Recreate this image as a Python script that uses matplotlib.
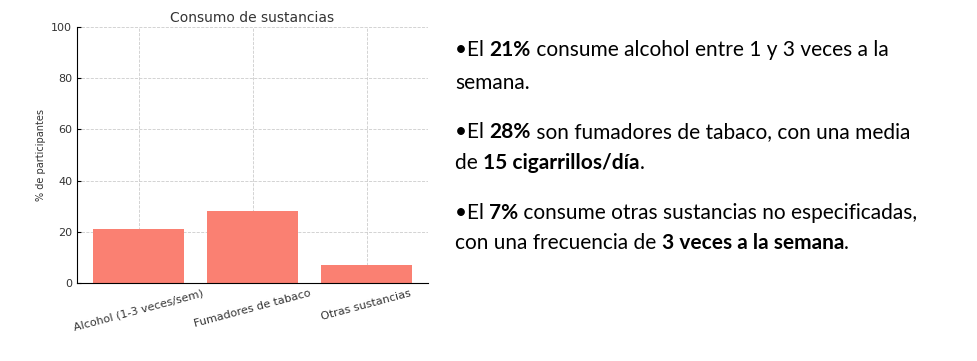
import matplotlib
matplotlib.use("Agg")
import matplotlib.pyplot as plt

categorias = ["Alcohol (1-3 veces/sem)", "Fumadores de tabaco", "Otras sustancias"]
porcentajes = [21, 28, 7]
yticks = [0, 20, 40, 60, 80, 100]

# texto de la derecha: cada línea es una lista de (texto, negrita)
lineas = [
    [("\u2022El ", False), ("21%", True), (" consume alcohol entre 1 y 3 veces a la", False)],
    [("semana.", False)],
    [("\u2022El ", False), ("28%", True), (" son fumadores de tabaco, con una media", False)],
    [("de ", False), ("15 cigarrillos/día", True), (".", False)],
    [("\u2022El ", False), ("7%", True), (" consume otras sustancias no especificadas,", False)],
    [("con una frecuencia de ", False), ("3 veces a la semana", True), (".", False)],
]
lineas_y = [50, 83, 132, 163, 213, 243]

fig = plt.figure(figsize=(9.78, 3.61), dpi=100)
ax = fig.add_axes([0.0787, 0.216, 0.359, 0.709])

ax.bar(categorias, porcentajes, width=0.8, color="#FA8072", zorder=2)
ax.set_ylim(0, 100)
ax.set_yticks(yticks)
ax.set_title("Consumo de sustancias", fontsize=10, color="#333333", pad=4)
ax.set_ylabel("% de participantes", fontsize=7, color="#333333")
ax.grid(True, linestyle="--", linewidth=0.6, color="#cccccc", zorder=0)
for s in ["top", "right"]:
    ax.spines[s].set_visible(False)
ax.tick_params(axis="both", direction="in", length=3, labelsize=8, labelcolor="#333333")
plt.setp(ax.get_xticklabels(), rotation=15, ha="center")

fig.canvas.draw()
renderer = fig.canvas.get_renderer()
H = 361
for partes, yc in zip(lineas, lineas_y):
    x = 455
    for txt, negrita in partes:
        t = fig.text(x / 978, 1 - yc / H, txt, fontsize=15, family="Lato",
                     fontweight="bold" if negrita else "normal",
                     va="center", ha="left", color="black")
        bb = t.get_window_extent(renderer=renderer)
        x += bb.width

fig.savefig("out.png", dpi=100)
